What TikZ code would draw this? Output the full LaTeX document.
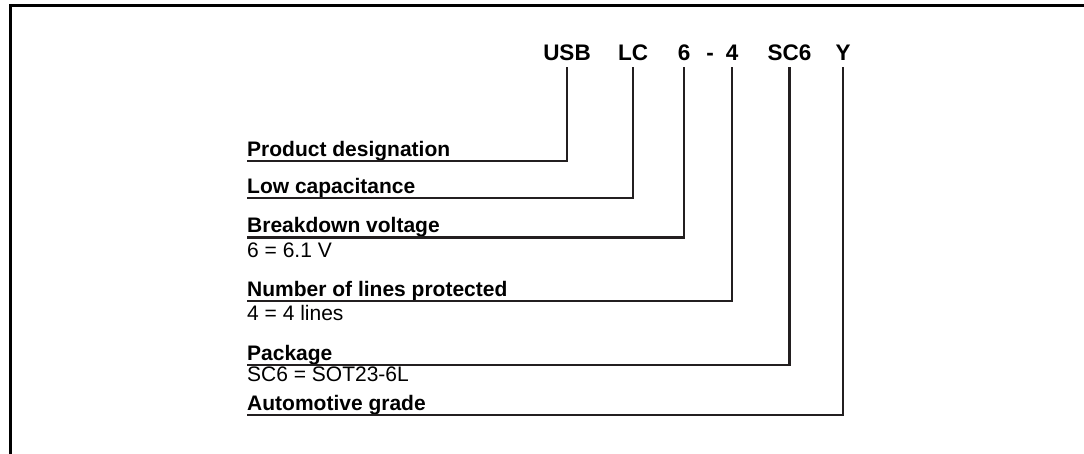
\documentclass[tikz,border=0pt]{standalone}
\usepackage{fontspec}
\setmainfont{Liberation Sans}
\definecolor{leadgray}{HTML}{231F20}

\begin{document}
\begin{tikzpicture}[x=1pt,y=-1pt,
  code node/.style={font=\bfseries\fontsize{22.5}{27}\selectfont,anchor=base,inner sep=0pt,text depth=6pt},
  main node/.style={font=\bfseries\fontsize{21}{25}\selectfont,anchor=base west,inner sep=0pt,text depth=4.5pt},
  sub node/.style={font=\fontsize{21}{25}\selectfont,anchor=base west,inner sep=0pt}]

  \useasboundingbox (0,0) rectangle (1084,454);
  \draw[line width=2.8pt] (1090,5.3) -- (10.3,5.3) -- (10.3,460);

  \node[code node] (usb) at (567,61) {USB};
  \node[code node] (lc)  at (633,61) {LC};
  \node[code node] (six) at (684,61) {6};
  \node[code node] (dash) at (710,61) {-};
  \node[code node] (four) at (732,61) {4};
  \node[code node] (sc)  at (789.5,61) {SC6};
  \node[code node] (y)   at (843,61) {Y};

  \node[main node] (prod) at (247,156.2) {Product designation};
  \node[main node] (cap)  at (247,193.2) {Low capacitance};
  \node[main node] (volt) at (247,233) {Breakdown voltage};
  \node[sub node]  (voltval) at (247,258) {6 = 6.1 V};
  \node[main node] (lines) at (247,296.5) {Number of lines protected};
  \node[sub node]  (linesval) at (247,320.7) {4 = 4 lines};
  \node[main node] (pack) at (247,360.2) {Package};
  \node[sub node]  (packval) at (247,381.7) {SC6 = SOT23-6L};
  \node[main node] (auto) at (247,410.5) {Automotive grade};

  \path[line width=2.5pt,draw=leadgray,to path={-| (\tikztotarget)}]
  (prod.south west)  edge (usb.south)
  (cap.south west)   edge (lc.south)
  (volt.south west)  edge (six.south)
  (lines.south west) edge (four.south)
  (pack.south west)  edge (sc.south)
  (auto.south west)  edge (y.south);
\end{tikzpicture}
\end{document}
